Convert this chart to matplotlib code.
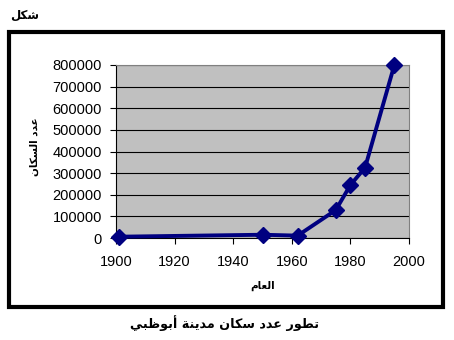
import matplotlib
matplotlib.use("Agg")
import matplotlib.pyplot as plt
from matplotlib.patches import Rectangle

# data
years = [1901, 1950, 1962, 1975, 1980, 1985, 1995]
population = [6000, 15000, 11000, 129000, 245000, 325000, 800000]
y_ticks = [0, 100000, 200000, 300000, 400000, 500000, 600000, 700000, 800000]
x_ticks = [1900, 1920, 1940, 1960, 1980, 2000]

fig_title = "شكل"
x_title = "العام"
y_title = "عدد السكان"
caption = "تطور عدد سكان مدينة أبوظبي"

# matplotlib has no arabic shaping, so pick presentation forms by hand
# letter: (isolated, final, initial, medial)
forms = {
    "ا": ("\uFE8D", "\uFE8E", None, None),
    "أ": ("\uFE83", "\uFE84", None, None),
    "ب": ("\uFE8F", "\uFE90", "\uFE91", "\uFE92"),
    "ت": ("\uFE95", "\uFE96", "\uFE97", "\uFE98"),
    "ة": ("\uFE93", "\uFE94", None, None),
    "د": ("\uFEA9", "\uFEAA", None, None),
    "ر": ("\uFEAD", "\uFEAE", None, None),
    "س": ("\uFEB1", "\uFEB2", "\uFEB3", "\uFEB4"),
    "ش": ("\uFEB5", "\uFEB6", "\uFEB7", "\uFEB8"),
    "ط": ("\uFEC1", "\uFEC2", "\uFEC3", "\uFEC4"),
    "ظ": ("\uFEC5", "\uFEC6", "\uFEC7", "\uFEC8"),
    "ع": ("\uFEC9", "\uFECA", "\uFECB", "\uFECC"),
    "ك": ("\uFED9", "\uFEDA", "\uFEDB", "\uFEDC"),
    "ل": ("\uFEDD", "\uFEDE", "\uFEDF", "\uFEE0"),
    "م": ("\uFEE1", "\uFEE2", "\uFEE3", "\uFEE4"),
    "ن": ("\uFEE5", "\uFEE6", "\uFEE7", "\uFEE8"),
    "و": ("\uFEED", "\uFEEE", None, None),
    "ي": ("\uFEF1", "\uFEF2", "\uFEF3", "\uFEF4"),
}


def shape(text):
    out = []
    for i, ch in enumerate(text):
        if ch not in forms:
            out.append(ch)
            continue
        prev = text[i - 1] if i > 0 else " "
        nxt = text[i + 1] if i < len(text) - 1 else " "
        join_prev = prev in forms and forms[prev][2] is not None
        join_next = nxt in forms and forms[ch][2] is not None
        f = forms[ch]
        if join_prev and join_next:
            out.append(f[3])
        elif join_prev:
            out.append(f[1])
        elif join_next:
            out.append(f[2])
        else:
            out.append(f[0])
    return "".join(out)[::-1]


navy = "#000080"
plt.rcParams["font.family"] = ["Liberation Sans", "DejaVu Sans"]

fig = plt.figure(figsize=(4.54, 3.4), dpi=100)
ax = fig.add_axes([116 / 454, 1 - 238 / 340, 293 / 454, 173 / 340])
ax.set_facecolor("#c0c0c0")

ax.plot(years, population, color=navy, lw=2.8, marker="D", ms=8.5,
        mfc=navy, mec=navy, clip_on=False, zorder=5)

ax.set_xlim(1900, 2000)
ax.set_ylim(0, 800000)
ax.set_xticks(x_ticks)
ax.set_yticks(y_ticks)
ax.set_yticklabels([str(v) for v in y_ticks])
ax.set_axisbelow(True)
ax.yaxis.grid(True, color="black", lw=0.8)
ax.tick_params(axis="both", direction="out", length=4, width=0.8,
               labelsize=10.5, color="black")
ax.tick_params(axis="y", pad=6)
ax.tick_params(axis="x", pad=8)
ax.spines["left"].set_color("black")
ax.spines["bottom"].set_color("black")
ax.spines["top"].set_color("#808080")
ax.spines["right"].set_color("#808080")
for s in ax.spines.values():
    s.set_linewidth(0.8)

arab = ["DejaVu Sans"]
fig.text(35 / 454, 1 - 147 / 340, shape(y_title), rotation=90, family=arab,
         fontsize=7.5, fontweight="bold", ha="center", va="center")
fig.text(263 / 454, 1 - 286 / 340, shape(x_title), family=arab,
         fontsize=7.5, fontweight="bold", ha="center", va="center")
fig.text(25 / 454, 1 - 15 / 340, shape(fig_title), family=arab,
         fontsize=8.5, fontweight="bold", ha="center", va="center")
fig.text(224 / 454, 1 - 323 / 340, shape(caption), family=arab,
         fontsize=9.2, fontweight="bold", ha="center", va="center")

# frame round the chart
fig.patches.append(Rectangle((9 / 454, 1 - 307 / 340), 434 / 454, 275 / 340,
                             transform=fig.transFigure, fill=False,
                             edgecolor="black", lw=3))

fig.savefig("out.png", dpi=100)
